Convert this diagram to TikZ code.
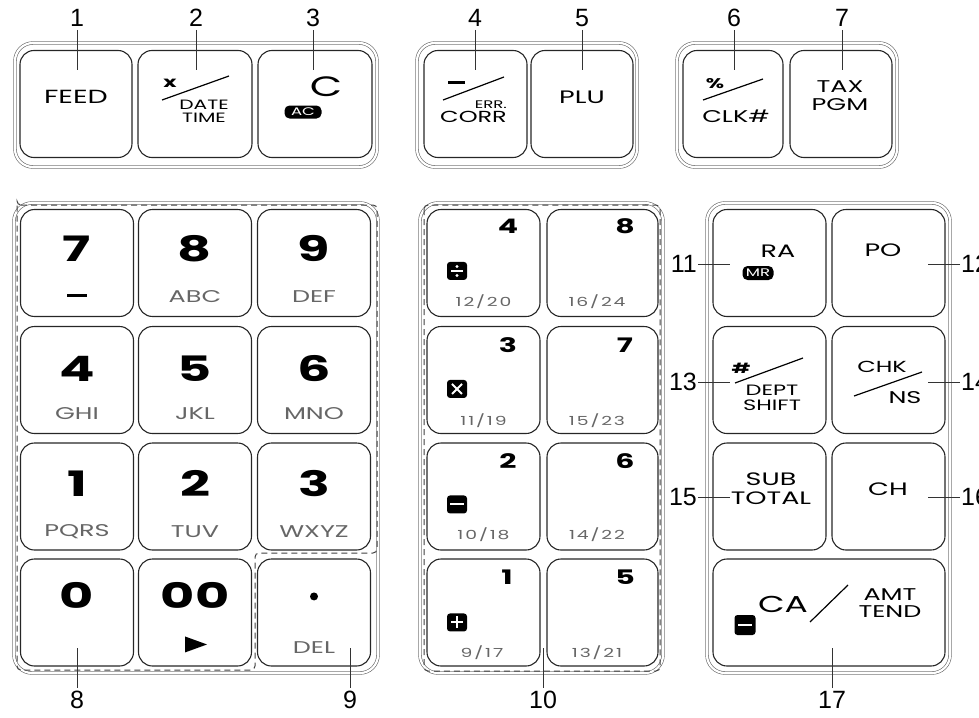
\documentclass[tikz,border=0pt]{standalone}
\usepackage{fontspec}
\setmainfont{Liberation Sans}
\newfontfamily\keyfont[FakeStretch=1.5]{Poppins}
\newfontfamily\slotfont[FakeStretch=1.5, LetterSpace=15]{Poppins}
\usepackage{tikz}
\usetikzlibrary{positioning,calc}

\begin{document}
\begin{tikzpicture}[
    x=1pt, y=-1pt,
    keybox/.style={draw=black!85, line width=1.1pt, rounded corners=14pt, minimum width=113pt, minimum height=107pt, inner sep=0pt},
    frame/.style={draw=black!60, double=white, double distance=2.2pt, line width=0.6pt, rounded corners=18pt},
    zone/.style={draw=black!75, line width=1pt, dash pattern=on 6pt off 4pt, rounded corners=4pt},
    callout/.style={font=\fontsize{25}{25}\selectfont, inner sep=3pt},
    leader/.style={draw=black!80, line width=1pt},
    legend/.style={font=\keyfont\fontsize{18}{18}\selectfont, align=center, inner sep=0pt},
    digit/.style={font=\keyfont\bfseries\fontsize{35}{35}\selectfont, inner sep=0pt},
    smalldigit/.style={font=\keyfont\bfseries\fontsize{20}{20}\selectfont, inner sep=0pt},
    letters/.style={font=\keyfont\fontsize{17}{17}\selectfont, text=black!60, inner sep=0pt},
    slot/.style={font=\slotfont\fontsize{12.5}{12.5}\selectfont, text=black!60, inner sep=0pt},
    badge/.style={fill=black, rounded corners=3pt, text=white, inner sep=0pt, font=\keyfont\fontsize{11}{11}\selectfont},
    slash/.style={draw=black, line width=1.2pt},
    bar/.style={draw=black, line width=3pt}
]
    \useasboundingbox (0,0) rectangle (979,717);

    % top groups
    \draw[frame] (15,43) rectangle (377,167);
    \draw[frame] (417,43) rectangle (637,167);
    \draw[frame] (677,43) rectangle (897,167);

    \node[keybox, minimum width=112pt] (feed) at (76,104) {};
    \node[keybox, minimum width=114pt] (datetime) at (195,104) {};
    \node[keybox, minimum width=114pt] (clear) at (315,104) {};
    \node[keybox, minimum width=103pt] (errcorr) at (475.5,104) {};
    \node[keybox, minimum width=102pt] (plu) at (582,104) {};
    \node[keybox, minimum width=100pt] (clk) at (733,104) {};
    \node[keybox, minimum width=102pt] (taxpgm) at (841,104) {};

    \node[legend, font=\keyfont\fontsize{19}{19}\selectfont] at (76,97) {FEED};
    \node[legend, font=\keyfont\bfseries\fontsize{15}{15}\selectfont] at (170,83) {x};
    \draw[slash] (162,100) -- (229,76);
    \node[legend, font=\keyfont\fontsize{13.5}{13}\selectfont] at (204,111) {DATE\\TIME};
    \node[legend, font=\keyfont\fontsize{28}{28}\selectfont] at (326,87) {C};
    \node[badge, minimum width=37pt, minimum height=13pt, rounded corners=5pt] (acbadge) at (303,112) {AC};
    \draw[bar] (448,82) -- (465,82);
    \draw[slash] (443,100) -- (504,77);
    \node[legend, anchor=east, font=\keyfont\fontsize{11}{11}\selectfont] at (507,105) {ERR.};
    \node[legend, anchor=east, font=\keyfont\fontsize{16}{16}\selectfont] at (507,117) {CORR};
    \node[legend] at (582,97) {PLU};
    \node[legend, font=\keyfont\bfseries\fontsize{14}{14}\selectfont] at (715,84) {\%};
    \draw[slash] (703,100) -- (763,79);
    \node[legend, font=\keyfont\fontsize{17}{17}\selectfont] at (736,116) {CLK\#};
    \node[legend, font=\keyfont\fontsize{17}{18}\selectfont] at (840,96) {TAX\\PGM};

    % numeric keypad
    \draw[frame] (14,203) rectangle (378,673);
    \draw[zone] (17,205) -| (377,553) -| (255,670) -| cycle;

    \node[keybox] (k7) at (77,263) {};
    \node[keybox] (k8) at (195,263) {};
    \node[keybox] (k9) at (314,263) {};
    \node[keybox] (k4) at (77,380) {};
    \node[keybox] (k5) at (195,380) {};
    \node[keybox] (k6) at (314,380) {};
    \node[keybox] (k1) at (77,496.5) {};
    \node[keybox] (k2) at (195,496.5) {};
    \node[keybox] (k3) at (314,496.5) {};
    \node[keybox] (k0) at (77,612.5) {};
    \node[keybox] (k00) at (195,612.5) {};
    \node[keybox] (kdot) at (314,612.5) {};

    \node[digit] at ($(k7.north)+(0,40)$) {7};
    \draw[bar] ($(k7.north)+(-10,87)$) -- ++(20,0);
    \node[digit] at ($(k8.north)+(0,40)$) {8};
    \node[letters] at ($(k8.north)+(0,88)$) {ABC};
    \node[digit] at ($(k9.north)+(0,40)$) {9};
    \node[letters] at ($(k9.north)+(0,88)$) {DEF};
    \node[digit] at ($(k4.north)+(0,43)$) {4};
    \node[letters] at ($(k4.north)+(0,88)$) {GHI};
    \node[digit] at ($(k5.north)+(0,43)$) {5};
    \node[letters] at ($(k5.north)+(0,88)$) {JKL};
    \node[digit] at ($(k6.north)+(0,43)$) {6};
    \node[letters] at ($(k6.north)+(0,88)$) {MNO};
    \node[digit] at ($(k1.north)+(0,41)$) {1};
    \node[letters] at ($(k1.north)+(0,89)$) {PQRS};
    \node[digit] at ($(k2.north)+(0,41)$) {2};
    \node[letters] at ($(k2.north)+(0,89)$) {TUV};
    \node[digit] at ($(k3.north)+(0,41)$) {3};
    \node[letters] at ($(k3.north)+(0,89)$) {WXYZ};
    \node[digit] at ($(k0.north)+(0,37)$) {0};
    \node[digit] at ($(k00.north)+(0,37)$) {00};
    \fill ($(k00.north)+(-10,78)$) -- ++(22,8) -- ++(-22,8) -- cycle;
    \fill ($(kdot.north)+(0,38)$) circle (4pt);
    \node[letters] at ($(kdot.north)+(0,89)$) {DEL};

    % middle keypad
    \draw[frame] (420,203) rectangle (663,673);
    \draw[zone] (424,205) rectangle (660,671);

    \node[keybox] (m4) at (483.5,263) {};
    \node[keybox, minimum width=111pt] (m8) at (602.5,263) {};
    \node[keybox] (m3) at (483.5,380) {};
    \node[keybox, minimum width=111pt] (m7) at (602.5,380) {};
    \node[keybox] (m2) at (483.5,496.5) {};
    \node[keybox, minimum width=111pt] (m6) at (602.5,496.5) {};
    \node[keybox] (m1) at (483.5,612.5) {};
    \node[keybox, minimum width=111pt] (m5) at (602.5,612.5) {};

    \node[smalldigit] at ($(m4.north)+(24.5,17)$) {4};
    \node[badge, minimum width=20pt, minimum height=18pt] (divicon) at ($(m4.north)+(-26.5,62)$) {};
    \draw[white, line width=2pt] ($(divicon.center)+(-6,0)$) -- ++(12,0);
    \fill[white] ($(divicon.center)+(0,-4.5)$) circle (1.6pt) ($(divicon.center)+(0,4.5)$) circle (1.6pt);
    \node[slot] at ($(m4.north)+(0,93)$) {12/20};
    \node[smalldigit] at ($(m8.north)+(22.5,17)$) {8};
    \node[slot] at ($(m8.north)+(-5.5,93)$) {16/24};

    \node[smalldigit] at ($(m3.north)+(24.5,19)$) {3};
    \node[badge, minimum width=20pt, minimum height=18pt] (mulicon) at ($(m3.north)+(-26.5,63)$) {};
    \draw[white, line width=2pt] ($(mulicon.center)+(-5,-5)$) -- ++(10,10) ($(mulicon.center)+(-5,5)$) -- ++(10,-10);
    \node[slot] at ($(m3.north)+(0,95)$) {11/19};
    \node[smalldigit] at ($(m7.north)+(22.5,19)$) {7};
    \node[slot] at ($(m7.north)+(-5.5,95)$) {15/23};

    \node[smalldigit] at ($(m2.north)+(24.5,19)$) {2};
    \node[badge, minimum width=20pt, minimum height=18pt] (subicon) at ($(m2.north)+(-26.5,62)$) {};
    \draw[white, line width=2pt] ($(subicon.center)+(-7,0)$) -- ++(14,0);
    \node[slot] at ($(m2.north)+(0,92)$) {10/18};
    \node[smalldigit] at ($(m6.north)+(22.5,19)$) {6};
    \node[slot] at ($(m6.north)+(-5.5,92)$) {14/22};

    \node[smalldigit] at ($(m1.north)+(23.5,19)$) {1};
    \node[badge, minimum width=20pt, minimum height=18pt] (addicon) at ($(m1.north)+(-26.5,64)$) {};
    \draw[white, line width=2pt] ($(addicon.center)+(-6,0)$) -- ++(12,0) ($(addicon.center)+(0,-6)$) -- ++(0,12);
    \node[slot] at ($(m1.north)+(-1.5,94)$) {9/17};
    \node[smalldigit] at ($(m5.north)+(22.5,19)$) {5};
    \node[slot] at ($(m5.north)+(-5.5,94)$) {13/21};

    % function keys
    \draw[frame] (707,203) rectangle (950,673);

    \node[keybox] (ra) at (769.5,263) {};
    \node[keybox] (po) at (888.5,263) {};
    \node[keybox] (dept) at (769.5,380) {};
    \node[keybox] (chk) at (888.5,380) {};
    \node[keybox] (sub) at (769.5,496.5) {};
    \node[keybox] (ch) at (888.5,496.5) {};
    \node[keybox, minimum width=232pt] (cash) at (829,612.5) {};

    \node[legend] at (778,251) {RA};
    \node[badge, minimum width=31pt, minimum height=14pt, rounded corners=5pt] (mrbadge) at (758,273) {MR};
    \node[legend] at (883,250) {PO};
    \node[legend, font=\keyfont\bfseries\fontsize{14}{14}\selectfont] at (741,368) {\#};
    \draw[slash] (735,383) -- (803,358);
    \node[legend, font=\keyfont\fontsize{15}{15}\selectfont] at (772,398) {DEPT\\SHIFT};
    \node[legend, font=\keyfont\fontsize{16}{16}\selectfont] at (882,367) {CHK};
    \draw[slash] (854,396) -- (922,372);
    \node[legend, font=\keyfont\fontsize{17}{17}\selectfont] at (905,398) {NS};
    \node[legend, font=\keyfont\fontsize{18}{19}\selectfont] at (771,488.5) {SUB\\TOTAL};
    \node[legend] at (888,489) {CH};
    \node[badge, minimum width=21pt, minimum height=20pt] (eqicon) at (745,625) {};
    \draw[white, line width=1.8pt] ($(eqicon.center)+(-7,0)$) -- ++(14,0);
    \node[legend, font=\keyfont\fontsize{23}{23}\selectfont] at (783,604) {CA};
    \draw[slash] (810,622) -- (848,585);
    \node[legend, font=\keyfont\fontsize{17}{17}\selectfont] at (890,603.5) {AMT\\TEND};

    % callouts
    \node[callout] (c1) at (77,18) {1};
    \node[callout] (c2) at (196,18) {2};
    \node[callout] (c3) at (313,18) {3};
    \node[callout] (c4) at (475,18) {4};
    \node[callout] (c5) at (582,18) {5};
    \node[callout] (c6) at (734,18) {6};
    \node[callout] (c7) at (842,18) {7};
    \node[callout] (c8) at (77,700) {8};
    \node[callout] (c9) at (350,700) {9};
    \node[callout] (c10) at (543,700) {10};
    \node[callout, anchor=east, inner sep=1pt] (c11) at (698,264) {11};
    \node[callout, anchor=west, inner sep=1pt] (c12) at (960,264) {12};
    \node[callout, anchor=east, inner sep=1pt] (c13) at (698,382) {13};
    \node[callout, anchor=west, inner sep=1pt] (c14) at (960,382) {14};
    \node[callout, anchor=east, inner sep=1pt] (c15) at (698,497) {15};
    \node[callout, anchor=west, inner sep=1pt] (c16) at (960,497) {16};
    \node[callout] (c17) at (832,700) {17};

    \coordinate (p1) at (77,70);
    \coordinate (p2) at (196,70);
    \coordinate (p3) at (313,70);
    \coordinate (p4) at (475,70);
    \coordinate (p5) at (582,70);
    \coordinate (p6) at (734,70);
    \coordinate (p7) at (842,70);
    \coordinate (p8) at (77,648);
    \coordinate (p9) at (350,648);
    \coordinate (p10) at (543,648);
    \coordinate (p11) at (730,264);
    \coordinate (p12) at (928,264);
    \coordinate (p13) at (730,382);
    \coordinate (p14) at (928,382);
    \coordinate (p15) at (730,497);
    \coordinate (p16) at (928,497);
    \coordinate (p17) at (832,648);

    \draw[leader] (c1) -- (p1);
    \draw[leader] (c2) -- (p2);
    \draw[leader] (c3) -- (p3);
    \draw[leader] (c4) -- (p4);
    \draw[leader] (c5) -- (p5);
    \draw[leader] (c6) -- (p6);
    \draw[leader] (c7) -- (p7);
    \draw[leader] (c8) -- (p8);
    \draw[leader] (c9) -- (p9);
    \draw[leader] (c10) -- (p10);
    \draw[leader] (c11) -- (p11);
    \draw[leader] (c12) -- (p12);
    \draw[leader] (c13) -- (p13);
    \draw[leader] (c14) -- (p14);
    \draw[leader] (c15) -- (p15);
    \draw[leader] (c16) -- (p16);
    \draw[leader] (c17) -- (p17);
\end{tikzpicture}
\end{document}
